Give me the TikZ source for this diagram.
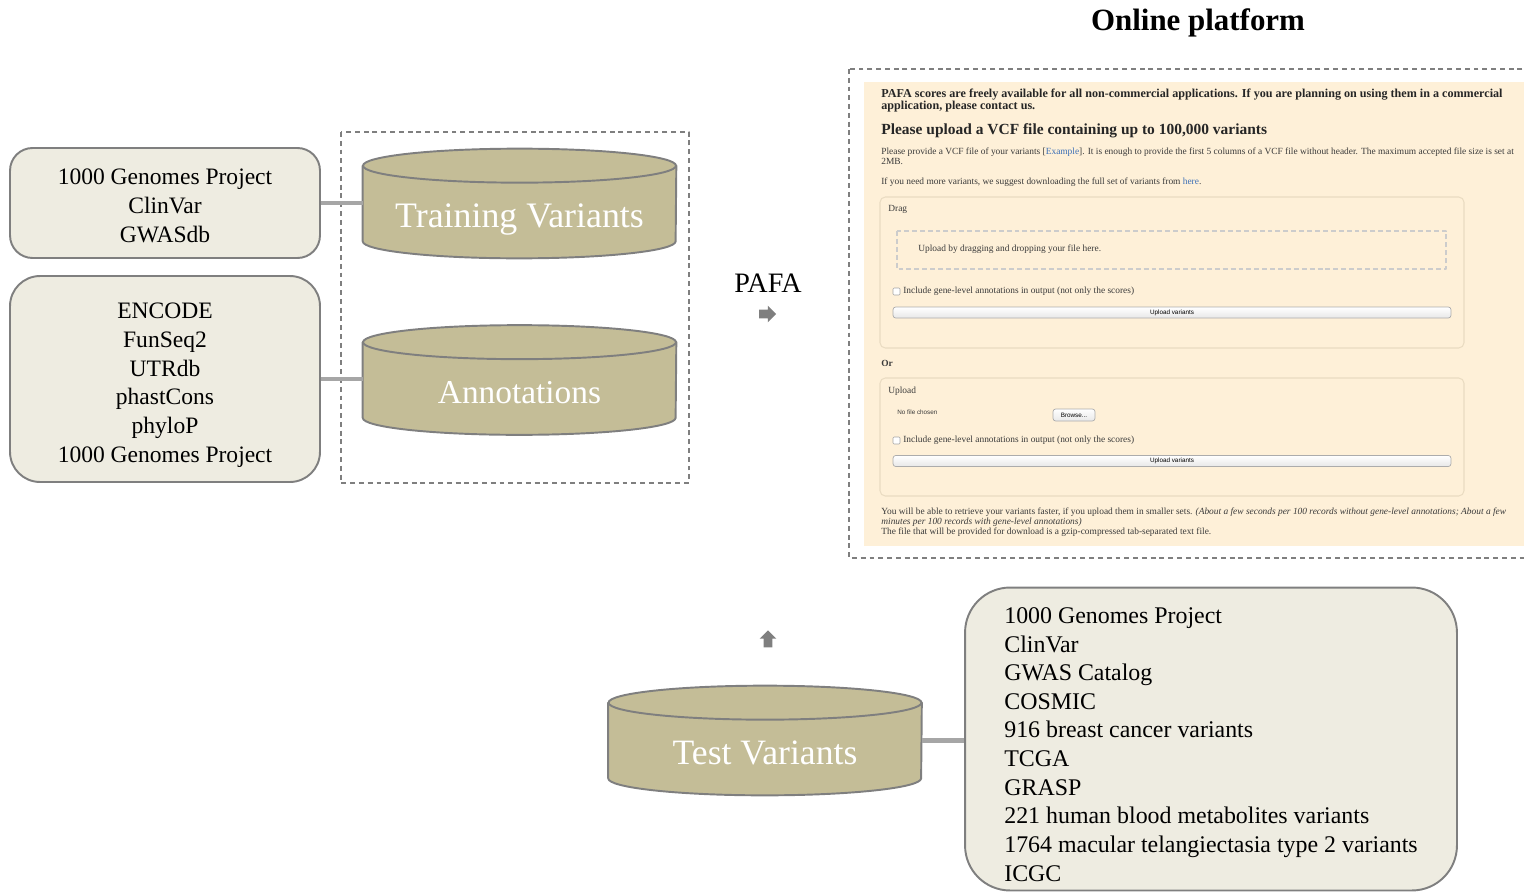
\documentclass[tikz,border=0pt]{standalone}
\usepackage{fontspec}
\setmainfont{Liberation Serif}
\setsansfont{Liberation Sans}
\usetikzlibrary{shapes.arrows}
\definecolor{boxfill}{HTML}{EEECE1}
\definecolor{cylfill}{HTML}{C4BD97}
\definecolor{edgegray}{HTML}{7F7F7F}
\definecolor{linkgray}{HTML}{A6A6A6}
\definecolor{webbg}{HTML}{FEF0D8}
\definecolor{panelline}{HTML}{EADCC2}
\definecolor{weblink}{HTML}{3B6FB6}
\definecolor{webtext}{HTML}{3A3A3A}
\begin{document}
\begin{tikzpicture}[x=0.02cm,y=-0.02cm,line join=round,line cap=round,
	srcbox/.style={draw=edgegray,fill=boxfill,line width=1.1pt,rounded corners=#1,
		inner sep=0pt,align=center,font=\fontsize{13.4}{16.4}\selectfont},
	cylbox/.style={minimum width=6.26cm,minimum height=2.18cm,inner sep=0pt},
	cylside/.style={draw=edgegray,fill=cylfill,line width=1.1pt},
	cyltext/.style={text=white,inner sep=0pt},
	link/.style={draw=linkgray,line width=2.8pt,line cap=butt},
	frame/.style={draw=edgegray,line width=0.8pt,dash pattern=on 2.8pt off 2.2pt,line cap=butt},
	blockarrow/.style={single arrow,fill=edgegray,inner sep=0.08cm,minimum height=0.34cm,
		minimum width=0.32cm,single arrow head extend=0.08cm},
	webtxt/.style={anchor=base west,inner sep=0pt,text=webtext,align=left,font=\fontsize{5.35}{5.67}\selectfont},
	panel/.style={draw=panelline,line width=0.6pt,rounded corners=3pt},
	chk/.style={draw=gray!70,fill=white,line width=0.3pt,rounded corners=0.6pt},
	btn/.style={draw=gray!65,top color=white,bottom color=gray!18,line width=0.4pt,rounded corners=1.5pt,
		inner sep=0pt,font=\sffamily\fontsize{3.6}{4}\selectfont}]
	\useasboundingbox (0,0) rectangle (1524,892);
	
	% sources
	\node[srcbox=0.45cm,minimum width=6.2cm,minimum height=2.2cm] (src1) at (165,203)
		{\rule{0pt}{12.3pt}1000 Genomes Project\\ClinVar\\GWASdb};
	\node[srcbox=0.6cm,minimum width=6.2cm,minimum height=4.12cm] (src2) at (165,379)
		{\rule{0pt}{16pt}ENCODE\\FunSeq2\\UTRdb\\phastCons\\phyloP\\1000 Genomes Project};
	\node[srcbox=0.9cm,minimum width=9.84cm,minimum height=6.06cm,align=left,
		font=\fontsize{13.6}{16.3}\selectfont] (src3) at (1211,739)
		{\rule{0pt}{15.2pt}1000 Genomes Project\\ClinVar\\GWAS Catalog\\COSMIC\\916 breast cancer variants\\TCGA\\GRASP\\
		221 human blood metabolites variants\\1764 macular telangiectasia type 2 variants\\ICGC};
	
	% databases
	\draw[frame] (341,132) rectangle (689,483);
	\foreach \nm/\cx/\cy/\fs/\txt in {trn/519.5/203.5/20.4/{Training Variants},ann/519.5/380/19/Annotations,tst/765/740.5/20.3/{Test Variants}}{
		\node[cylbox] (\nm) at (\cx,\cy) {};
		\draw[cylside] ([yshift=-.34cm]\nm.north west) -- ([yshift=.34cm]\nm.south west)
			arc[start angle=180,end angle=360,x radius=3.13cm,y radius=.34cm]
			-- ([yshift=-.34cm]\nm.north east) -- cycle;
		\draw[cylside] ([yshift=-.34cm]\nm.north) ellipse[x radius=3.13cm,y radius=.34cm];
		\node[cyltext,anchor=base,font=\fontsize{\fs}{24}\selectfont] (\nm-txt) at ([yshift=-.48cm]\nm.center) {\txt};
	}
	\draw[link] (src1.east) -- (src1.east -| trn.west);
	\draw[link] (src2.east) -- (src2.east -| ann.west);
	\draw[link] (tst.east) -- (tst.east -| src3.west);
	
	\node[font=\fontsize{16}{18}\selectfont,inner sep=0pt] (pafa) at (768,283) {PAFA};
	\node[blockarrow] (toweb) at (765.5,314) {};
	\node[blockarrow,shape border rotate=90] (fromtst) at (768,641) {};
	
	% online platform
	\node[font=\bfseries\fontsize{17.6}{20}\selectfont,inner sep=0pt] (webttl) at (1198,23) {Online platform};
	\fill[webbg] (864,82) rectangle (1524,546);
	\draw[frame] (849,69) rectangle (1540,558);
	\node[webtxt,font=\bfseries\fontsize{6.9}{6.24}\selectfont,text=black!85] (note) at (881,110)
		{PAFA scores are freely available for all non-commercial applications. If you are planning on using them in a commercial\\
		application, please contact us.};
	\node[webtxt,font=\bfseries\fontsize{8.8}{9}\selectfont,text=black!85] (head) at (881,134)
		{Please upload a VCF file containing up to 100,000 variants};
	\node[webtxt] (provide) at (881,164.5)
		{Please provide a VCF file of your variants [\textcolor{weblink}{Example}]. It is enough to provide the first 5 columns of a VCF file without header. The maximum accepted file size is set at\\2MB.};
	\node[webtxt] (more) at (881,184.5)
		{If you need more variants, we suggest downloading the full set of variants from \textcolor{weblink}{here}.};
	
	\draw[panel] (880,197) rectangle (1464,348);
	\node[webtxt] (drag) at (888,211.5) {Drag};
	\draw[draw=gray!40,line width=1.1pt,dash pattern=on 2.8pt off 1.7pt,line cap=butt] (897,231) rectangle (1446,269);
	\node[webtxt] (dropmsg) at (918,251.5) {Upload by dragging and dropping your file here.};
	\draw[chk] (893,288) rectangle (900,295);
	\node[webtxt] (gene1) at (903,293.5) {Include gene-level annotations in output (not only the scores)};
	\node[btn,minimum width=11.16cm,minimum height=0.22cm] (upbtn1) at (1172,312.5) {Upload variants};
	
	\node[webtxt,font=\bfseries\fontsize{5.35}{6}\selectfont] (or) at (881,366) {Or};
	
	\draw[panel] (880,378) rectangle (1464,496);
	\node[webtxt] (upl) at (888,393.5) {Upload};
	\node[webtxt,font=\sffamily\fontsize{3.6}{4}\selectfont] (nofile) at (897,414.5) {No file chosen};
	\node[btn,minimum width=0.84cm,minimum height=0.24cm] (browse) at (1074,415) {Browse...};
	\draw[chk] (893,437) rectangle (900,444);
	\node[webtxt] (gene2) at (903,442.5) {Include gene-level annotations in output (not only the scores)};
	\node[btn,minimum width=11.16cm,minimum height=0.22cm] (upbtn2) at (1172,461) {Upload variants};
	
	\node[webtxt] (footer) at (881,534.5)
		{You will be able to retrieve your variants faster, if you upload them in smaller sets. \textit{(About a few seconds per 100 records without gene-level annotations; About a few}\\
		\textit{minutes per 100 records with gene-level annotations)}\\
		The file that will be provided for download is a gzip-compressed tab-separated text file.};
\end{tikzpicture}
\end{document}
